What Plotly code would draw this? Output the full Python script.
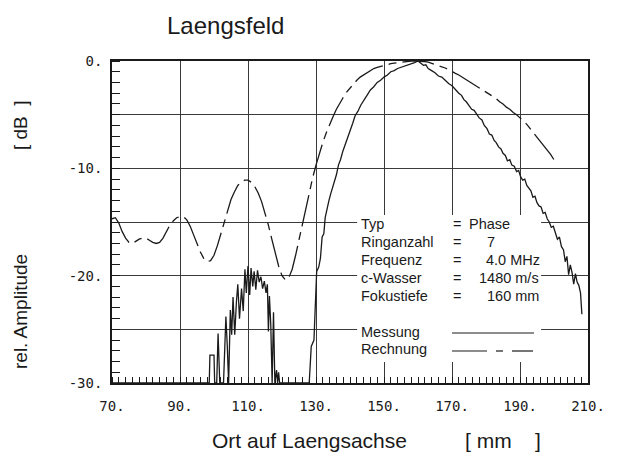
import plotly.graph_objects as go

# ---------------- data ----------------
x_tick_vals = [70, 90, 110, 130, 150, 170, 190, 210]
x_tick_text = ["70.", "90.", "110.", "130.", "150.", "170.", "190.", "210."]
y_tick_vals = [-30, -25, -20, -15, -10, -5, 0]
y_tick_text = ["-30.", "", "-20.", "", "-10.", "", "0."]

# Rechnung (calculation), dashed
rech_x = list(range(70, 201))
rech_y = [-14.7, -14.6, -15.1, -15.9, -16.5, -16.9, -17.0, -16.8, -16.6, -16.5,
          -16.5, -16.7, -16.9, -17.0, -16.9, -16.5, -15.9, -15.3, -14.9, -14.6,
          -14.5, -14.5, -14.8, -15.4, -16.2, -17.0, -17.8, -18.4, -18.7, -18.6,
          -18.1, -17.2, -16.1, -15.0, -13.9, -12.9, -12.2, -11.6, -11.3, -11.1,
          -11.1, -11.3, -11.7, -12.3, -13.1, -14.1, -15.3, -16.6, -17.9, -19.1,
          -20.0, -20.4, -20.2, -19.4, -18.1, -16.6, -15.1, -13.7, -12.3, -10.9,
          -9.7, -8.6, -7.6, -6.7, -5.9, -5.2, -4.5, -3.9, -3.4, -2.9,
          -2.5, -2.1, -1.8, -1.5, -1.3, -1.1, -0.9, -0.7, -0.6, -0.5,
          -0.4, -0.3, -0.25, -0.2, -0.15, -0.1, -0.05, -0.02, 0.0, 0.0,
          0.0, 0.0, -0.05, -0.1, -0.2, -0.3, -0.4, -0.5, -0.65, -0.8,
          -1.0, -1.15, -1.3, -1.5, -1.7, -1.9, -2.1, -2.3, -2.5, -2.7,
          -2.9, -3.1, -3.3, -3.5, -3.8, -4.0, -4.3, -4.5, -4.8, -5.0,
          -5.3, -5.6, -5.9, -6.3, -6.7, -7.0, -7.4, -7.8, -8.3, -8.7,
          -9.2]

# Messung (measurement), solid
mess_x = [70.0,
          98.6, 98.8, 100.0, 100.2, 100.8, 101.2, 101.7, 102.8, 103.5, 103.9,
          104.3, 104.8, 105.2, 105.6, 106.1, 106.6, 107.0, 107.5, 108.1, 108.6,
          109.1, 109.5, 110.0, 110.5, 110.9, 111.4, 111.8, 112.3, 112.8, 113.3,
          113.8, 114.3, 114.8, 115.3, 115.7, 116.0, 116.3, 116.7, 117.1, 117.5,
          117.9, 118.4, 118.7, 119.0, 119.3,
          128.0, 128.6, 129.4, 129.8, 130.2, 130.8, 131.3, 131.8, 132.3, 132.7,
          133.2, 133.8, 134.3, 134.9, 135.5, 136.0, 136.6, 137.2, 137.9, 138.6,
          139.3, 140.0, 140.8, 141.5, 142.3, 143.2, 144.1, 145.0, 146.0, 147.0,
          148.0, 149.0, 150.0, 151.0, 152.0, 153.0, 154.0, 155.0, 156.0, 157.0,
          158.0, 159.0, 160.0, 161.0, 161.6, 162.3, 163.0, 164.0, 165.0, 166.0,
          167.0, 168.0, 169.0, 170.0, 171.0, 172.0, 172.8, 173.5, 174.2, 175.0,
          175.8, 176.5, 177.3, 178.0, 178.8, 179.5, 180.3, 181.0, 181.7, 182.4,
          183.0, 183.7, 184.4, 185.0, 185.7, 186.3, 187.0, 187.6, 188.3, 189.0,
          189.6, 190.2, 190.8, 191.4, 192.0, 192.6, 193.2, 193.8, 194.4, 195.0,
          195.6, 196.2, 196.8, 197.4, 198.0, 198.6, 199.2, 199.8, 200.4, 201.0,
          201.6, 202.2, 202.8, 203.3, 203.8, 204.3, 204.8, 205.3, 205.8, 206.3,
          206.8, 207.3, 207.8, 208.2]
mess_y = [-30.0,
          -30.0, -27.4, -27.4, -30.0, -30.0, -25.4, -30.0, -30.0, -23.8, -26.5,
          -30.0, -23.2, -25.5, -22.0, -25.5, -22.4, -20.8, -24.0, -21.2, -23.3,
          -19.4, -21.6, -19.1, -21.8, -19.3, -21.0, -19.6, -21.3, -19.5, -20.6,
          -20.1, -21.2, -20.5, -21.6, -20.8, -25.2, -21.9, -24.6, -30.0, -23.4,
          -30.0, -28.8, -30.0, -29.0, -30.0,
          -30.0, -26.6, -26.0, -23.0, -19.6, -19.2, -18.4, -16.4, -16.1, -14.6,
          -13.8, -13.0, -12.4, -11.8, -11.0, -10.6, -9.7, -9.2, -8.4, -7.8,
          -7.0, -6.6, -5.8, -5.1, -4.7, -4.1, -3.6, -3.2, -2.7, -2.4,
          -2.0, -1.8, -1.5, -1.3, -1.0, -0.9, -0.7, -0.6, -0.5, -0.4,
          -0.25, -0.15, 0.0, -0.2, -0.4, -0.35, -0.7, -0.9, -1.1, -1.4,
          -1.5, -1.8, -2.1, -2.3, -2.7, -3.0, -3.2, -3.6, -3.8, -4.1,
          -4.5, -4.6, -5.0, -5.3, -5.5, -6.0, -6.3, -6.8, -6.9, -7.4,
          -7.6, -8.0, -8.2, -8.6, -8.8, -9.3, -9.2, -9.7, -9.8, -10.3,
          -10.2, -10.8, -11.1, -11.0, -11.6, -11.9, -12.1, -12.7, -12.6, -13.2,
          -13.5, -13.6, -14.2, -14.1, -14.7, -15.0, -15.5, -15.4, -16.1, -16.6,
          -16.4, -17.3, -17.6, -18.7, -18.2, -19.9, -19.0, -19.7, -20.8, -19.8,
          -20.6, -20.9, -21.6, -23.6]

# legend / parameter box text
param_names = ["Typ", "Ringanzahl", "Frequenz", "c-Wasser", "Fokustiefe"]
param_values = ["Phase", "7", "4.0 MHz", "1480 m/s", "160 mm"]
series_names = ["Messung", "Rechnung"]

# ---------------- figure ----------------
INK = "#1a1a1a"
GRID = "#3a3a3a"
TXT = "Liberation Sans, Arial, sans-serif"
MONO = "DejaVu Sans Mono, Liberation Mono, monospace"

L, R, T, B = 112, 55, 61, 69
W, H = 643, 452
PW, PH = W - L - R, H - T - B


def px(xp):
    return (xp - L) / PW


def py(yp):
    return (H - B - yp) / PH


fig = go.Figure()
fig.add_trace(go.Scatter(x=rech_x, y=rech_y, mode="lines", name=series_names[1],
                         line=dict(color=INK, width=1.3, dash="32px,6px,8px,6px")))
fig.add_trace(go.Scatter(x=mess_x, y=mess_y, mode="lines", name=series_names[0],
                         line=dict(color=INK, width=1.3)))

# white area behind the parameter text (hides the grid there)
fig.add_shape(type="rect", xref="x", yref="y", x0=142.1, x1=196.2, y0=-28.05, y1=-14.35,
              fillcolor="white", line=dict(width=0), layer="between")

annotations = []
name_y = [224, 242, 260, 278, 296]
val_x = [467, 485, 484, 477, 485]
FS = 14.5
for n, v, yy, vx in zip(param_names, param_values, name_y, val_x):
    annotations.append(dict(text=n, x=px(359), y=py(yy), xref="paper", yref="paper",
                            xanchor="left", yanchor="middle", showarrow=False,
                            font=dict(family=TXT, size=FS, color=INK)))
    annotations.append(dict(text="=", x=px(451), y=py(yy), xref="paper", yref="paper",
                            xanchor="left", yanchor="middle", showarrow=False,
                            font=dict(family=TXT, size=FS, color=INK)))
    annotations.append(dict(text=v, x=px(vx), y=py(yy), xref="paper", yref="paper",
                            xanchor="left", yanchor="middle", showarrow=False,
                            font=dict(family=TXT, size=FS, color=INK)))
for n, yy in zip(series_names, [332, 349]):
    annotations.append(dict(text=n, x=px(359), y=py(yy), xref="paper", yref="paper",
                            xanchor="left", yanchor="middle", showarrow=False,
                            font=dict(family=TXT, size=FS, color=INK)))

# legend sample lines
fig.add_shape(type="line", xref="paper", yref="paper", x0=px(452), x1=px(534),
              y0=py(333), y1=py(333), line=dict(color=INK, width=1.2))
for a, b in [(452, 487), (496, 503), (512, 533)]:
    fig.add_shape(type="line", xref="paper", yref="paper", x0=px(a), x1=px(b),
                  y0=py(351), y1=py(351), line=dict(color=INK, width=1.2))

# title and axis titles
annotations.append(dict(text="Laengsfeld", x=px(165), y=py(26), xref="paper", yref="paper",
                        xanchor="left", yanchor="middle", showarrow=False,
                        font=dict(family=TXT, size=24, color=INK)))
annotations.append(dict(text="Ort auf Laengsachse", x=px(210), y=py(440), xref="paper",
                        yref="paper", xanchor="left", yanchor="middle", showarrow=False,
                        font=dict(family=TXT, size=21, color=INK)))
annotations.append(dict(text="[ mm&nbsp;&nbsp;&nbsp;&nbsp;]", x=px(463), y=py(440), xref="paper",
                        yref="paper", xanchor="left", yanchor="middle", showarrow=False,
                        font=dict(family=TXT, size=21, color=INK)))
annotations.append(dict(text="rel. Amplitude", x=px(20), y=py(312), xref="paper",
                        yref="paper", xanchor="center", yanchor="middle", showarrow=False,
                        textangle=-90, font=dict(family=TXT, size=19, color=INK)))
annotations.append(dict(text="[ dB&nbsp;&nbsp;]", x=px(20), y=py(125), xref="paper",
                        yref="paper", xanchor="center", yanchor="middle", showarrow=False,
                        textangle=-90, font=dict(family=TXT, size=19, color=INK)))

fig.update_layout(
    width=W, height=H,
    margin=dict(l=L, r=R, t=T, b=B),
    paper_bgcolor="white", plot_bgcolor="white",
    showlegend=False,
    annotations=annotations,
    xaxis=dict(range=[70, 210], tickmode="array", tickvals=x_tick_vals, ticktext=x_tick_text,
               showgrid=True, gridcolor=GRID, gridwidth=1.2, zeroline=False,
               showline=True, linecolor=INK, linewidth=1.6, mirror=True,
               ticks="", ticklabelstandoff=9, tickfont=dict(family=MONO, size=14, color=INK),
               minor=dict(tickmode="linear", tick0=70, dtick=2, ticks="inside",
                          ticklen=6, tickcolor=INK, tickwidth=1.2, showgrid=False)),
    yaxis=dict(range=[-30, 0], tickmode="array", tickvals=y_tick_vals, ticktext=y_tick_text,
               showgrid=True, gridcolor=GRID, gridwidth=1.2, zeroline=False,
               showline=True, linecolor=INK, linewidth=1.6, mirror=True,
               ticks="", ticklabelstandoff=5, tickfont=dict(family=MONO, size=14, color=INK),
               minor=dict(tickmode="linear", tick0=0, dtick=1, ticks="inside",
                          ticklen=8, tickcolor=INK, tickwidth=1.2, showgrid=False)),
)

fig.write_html("out.html", config={"displayModeBar": False},
               post_script="document.body.style.margin='0';document.body.style.overflow='hidden';")
